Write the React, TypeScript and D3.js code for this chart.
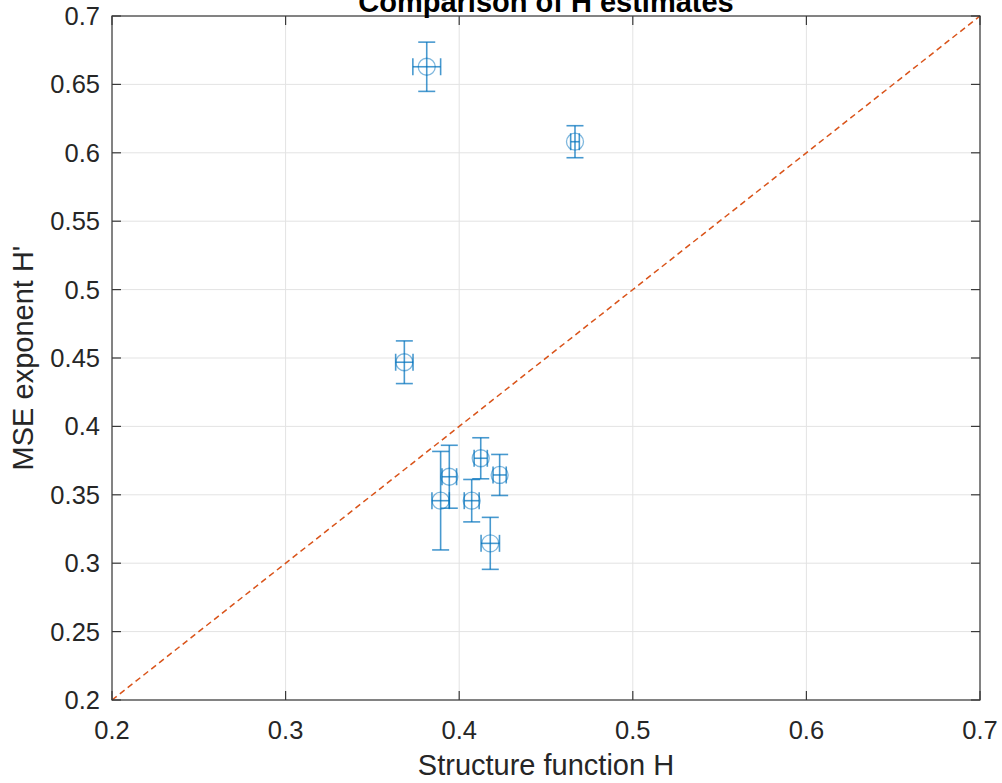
import React from "react";
import * as d3 from "d3";

const xVals = [0.3813, 0.4667, 0.3684, 0.3893, 0.3943, 0.4124, 0.4233, 0.4072, 0.4179];
const yVals = [0.6629, 0.6081, 0.4469, 0.3457, 0.3632, 0.3767, 0.3645, 0.3457, 0.3145];
const yErr = [0.018, 0.0117, 0.0156, 0.036, 0.023, 0.015, 0.015, 0.0155, 0.019];
const xErr = [0.008, 0.0025, 0.005, 0.005, 0.0042, 0.0038, 0.0038, 0.0043, 0.0053];
const xTicks = [0.2, 0.3, 0.4, 0.5, 0.6, 0.7];
const yTicks = [0.2, 0.25, 0.3, 0.35, 0.4, 0.45, 0.5, 0.55, 0.6, 0.65, 0.7];
const refLine = [0.2, 0.7];

const W = 1002;
const H = 783;
const L = 112, R = 980, T = 16, B = 700;
const FONT = "'Liberation Sans', Arial, Helvetica, sans-serif";

export default function App() {
  const x = d3.scaleLinear().domain([0.2, 0.7]).range([L, R]);
  const y = d3.scaleLinear().domain([0.2, 0.7]).range([B, T]);
  const fmt = (v: number) => String(+v.toFixed(2));
  const cap = 8.5;
  const col = "#0072BD";
  return (
    <svg width={W} height={H} style={{ position: "absolute", left: 0, top: 0, background: "#fff" }}>
      <rect x={0} y={0} width={W} height={H} fill="#fff" />
      {/* grid */}
      {xTicks.map((t) => (
        <line key={"gx" + t} x1={x(t)} x2={x(t)} y1={T} y2={B} stroke="#e3e3e3" strokeWidth={1} />
      ))}
      {yTicks.map((t) => (
        <line key={"gy" + t} x1={L} x2={R} y1={y(t)} y2={y(t)} stroke="#e3e3e3" strokeWidth={1} />
      ))}
      {/* reference line */}
      <line
        x1={x(refLine[0])}
        y1={y(refLine[0])}
        x2={x(refLine[1])}
        y2={y(refLine[1])}
        stroke="#D95319"
        strokeWidth={1.5}
        strokeDasharray="6,4"
      />
      {/* error bars */}
      {xVals.map((xv, i) => {
        const cx = x(xv);
        const cy = y(yVals[i]);
        const y1 = y(yVals[i] + yErr[i]);
        const y2 = y(yVals[i] - yErr[i]);
        const x1 = x(xv - xErr[i]);
        const x2 = x(xv + xErr[i]);
        return (
          <g key={"p" + i} stroke={col} fill="none">
            <g strokeOpacity={0.72} strokeWidth={1.6}>
              <line x1={cx} x2={cx} y1={y1} y2={y2} />
              <line x1={cx - cap} x2={cx + cap} y1={y1} y2={y1} />
              <line x1={cx - cap} x2={cx + cap} y1={y2} y2={y2} />
              <line x1={x1} x2={x2} y1={cy} y2={cy} />
              <line x1={x1} x2={x1} y1={cy - cap} y2={cy + cap} />
              <line x1={x2} x2={x2} y1={cy - cap} y2={cy + cap} />
            </g>
            <circle cx={cx} cy={cy} r={8.5} strokeOpacity={0.5} strokeWidth={1.3} />
          </g>
        );
      })}
      {/* box */}
      <rect x={L} y={T} width={R - L} height={B - T} fill="none" stroke="#3a3a3a" strokeWidth={1.2} />
      {/* ticks */}
      {xTicks.map((t) => (
        <g key={"tx" + t} stroke="#3a3a3a" strokeWidth={1.2}>
          <line x1={x(t)} x2={x(t)} y1={B} y2={B - 9} />
          <line x1={x(t)} x2={x(t)} y1={T} y2={T + 9} />
        </g>
      ))}
      {yTicks.map((t) => (
        <g key={"ty" + t} stroke="#3a3a3a" strokeWidth={1.2}>
          <line x1={L} x2={L + 9} y1={y(t)} y2={y(t)} />
          <line x1={R} x2={R - 9} y1={y(t)} y2={y(t)} />
        </g>
      ))}
      {/* tick labels */}
      {xTicks.map((t) => (
        <text key={"lx" + t} x={x(t)} y={739} textAnchor="middle" fontFamily={FONT} fontSize={25.5} fill="#262626">
          {fmt(t)}
        </text>
      ))}
      {yTicks.map((t) => (
        <text key={"ly" + t} x={100} y={y(t) + 9} textAnchor="end" fontFamily={FONT} fontSize={25.5} fill="#262626">
          {fmt(t)}
        </text>
      ))}
      {/* labels */}
      <text x={(L + R) / 2} y={775} textAnchor="middle" fontFamily={FONT} fontSize={29} fill="#262626">
        Structure function H
      </text>
      <text
        transform={`translate(33,${(T + B) / 2}) rotate(-90)`}
        textAnchor="middle"
        fontFamily={FONT}
        fontSize={29}
        fill="#262626"
      >
        MSE exponent H'
      </text>
      <text x={(L + R) / 2} y={11.5} textAnchor="middle" fontFamily={FONT} fontSize={29} fontWeight="bold" fill="#000">
        Comparison of H estimates
      </text>
    </svg>
  );
}
